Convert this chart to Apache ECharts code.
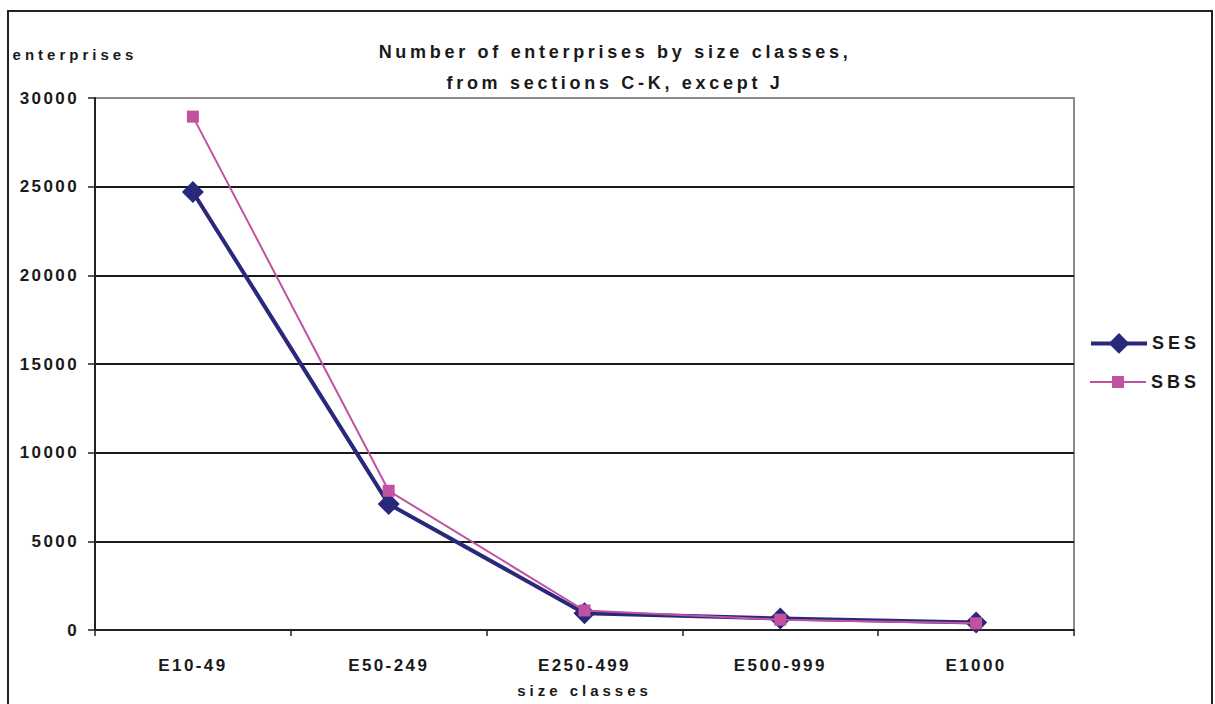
<!DOCTYPE html>
<html>
<head>
<meta charset="utf-8">
<script src="https://cdn.jsdelivr.net/npm/echarts@6/dist/echarts.min.js"></script>
<style>
  html, body { margin: 0; padding: 0; background: #fff; }
  #chart { width: 1215px; height: 704px; }
  #chart text { letter-spacing: 2.4px; }
</style>
</head>
<body>
<div id="chart"></div>
<script>
// Enterprise counts per size class, two sources
const sizeClasses = ['E10-49', 'E50-249', 'E250-499', 'E500-999', 'E1000'];
const sesValues = [24700, 7100, 950, 650, 420];
const sbsValues = [28950, 7850, 1100, 580, 380];
const yTicks = { min: 0, max: 30000, step: 5000 };

const FONT = '"Liberation Sans", Arial, sans-serif';
const INK = '#1a1a1a';
const SES_COLOR = '#29287a';
const SBS_COLOR = '#c152a0';

const legendText = { fontFamily: FONT, fontWeight: 'bold', fontSize: 18, color: INK };

const chart = echarts.init(document.getElementById('chart'), null, { renderer: 'svg' });

chart.setOption({
  animation: false,
  backgroundColor: '#ffffff',
  title: {
    text: 'Number of enterprises by size classes,\nfrom sections C-K, except J',
    left: 610,
    textAlign: 'center',
    top: 31,
    textStyle: { fontFamily: FONT, fontWeight: 'bold', fontSize: 18, lineHeight: 31, color: INK }
  },
  // one legend block per series so each key keeps its own marker size
  legend: [
    {
      orient: 'vertical', left: 1084, top: 328,
      itemWidth: 56, itemHeight: 26,
      textStyle: legendText,
      lineStyle: { width: 4 },
      data: ['SES']
    },
    {
      orient: 'vertical', left: 1084, top: 368,
      itemWidth: 56, itemHeight: 15,
      textStyle: legendText,
      lineStyle: { width: 2 },
      data: ['SBS']
    }
  ],
  graphic: [{
    type: 'rect',
    shape: { x: 8, y: 11, width: 1204, height: 720 },
    style: { fill: 'none', stroke: '#222', lineWidth: 2 },
    silent: true
  }],
  grid: {
    left: 95, right: 141, top: 98, bottom: 74,
    outerBoundsMode: 'none',
    containLabel: false,
    show: true,
    borderColor: '#8a8a8a',
    borderWidth: 2,
    backgroundColor: 'transparent'
  },
  xAxis: {
    type: 'category',
    data: sizeClasses,
    boundaryGap: true,
    name: 'size classes',
    nameLocation: 'middle',
    nameGap: 53,
    nameTextStyle: { fontFamily: FONT, fontWeight: 'bold', fontSize: 15, color: INK },
    axisLine: { lineStyle: { color: '#222', width: 2 } },
    axisTick: { show: true, length: 6, inside: false, lineStyle: { color: '#222', width: 1.5 } },
    axisLabel: { margin: 27, fontFamily: FONT, fontWeight: 'bold', fontSize: 17, color: INK },
    splitLine: { show: false }
  },
  yAxis: {
    type: 'value',
    min: yTicks.min,
    max: yTicks.max,
    interval: yTicks.step,
    name: 'enterprises',
    nameLocation: 'end',
    nameGap: 36,
    nameTextStyle: { fontFamily: FONT, fontWeight: 'bold', fontSize: 15, color: INK, padding: [0, 40, 0, 0] },
    axisLine: { show: true, lineStyle: { color: '#222', width: 2 } },
    axisTick: { show: true, length: 7, inside: false, lineStyle: { color: '#222', width: 1.5 } },
    axisLabel: {
      margin: 16, fontFamily: FONT, fontWeight: 'bold', fontSize: 17, color: INK,
      formatter: function (v) { return String(v); }
    },
    splitLine: { show: true, showMaxLine: false, lineStyle: { color: '#1a1a1a', width: 2 } }
  },
  series: [
    {
      name: 'SES',
      type: 'line',
      data: sesValues,
      symbol: 'diamond',
      symbolSize: 22,
      z: 2,
      lineStyle: { color: SES_COLOR, width: 4 },
      itemStyle: { color: SES_COLOR }
    },
    {
      name: 'SBS',
      type: 'line',
      data: sbsValues,
      symbol: 'rect',
      symbolSize: 12,
      z: 3,
      lineStyle: { color: SBS_COLOR, width: 2 },
      itemStyle: { color: SBS_COLOR }
    }
  ]
});

// Per-label tracking
document.querySelectorAll('#chart text').forEach(function (t) {
  const s = t.textContent;
  if (/Number of|from sections/.test(s)) t.style.letterSpacing = '3.7px';
  else if (s === 'enterprises' || s === 'size classes') t.style.letterSpacing = '4px';
  else if (s === 'SES' || s === 'SBS') t.style.letterSpacing = '4px';
});
</script>
</body>
</html>
